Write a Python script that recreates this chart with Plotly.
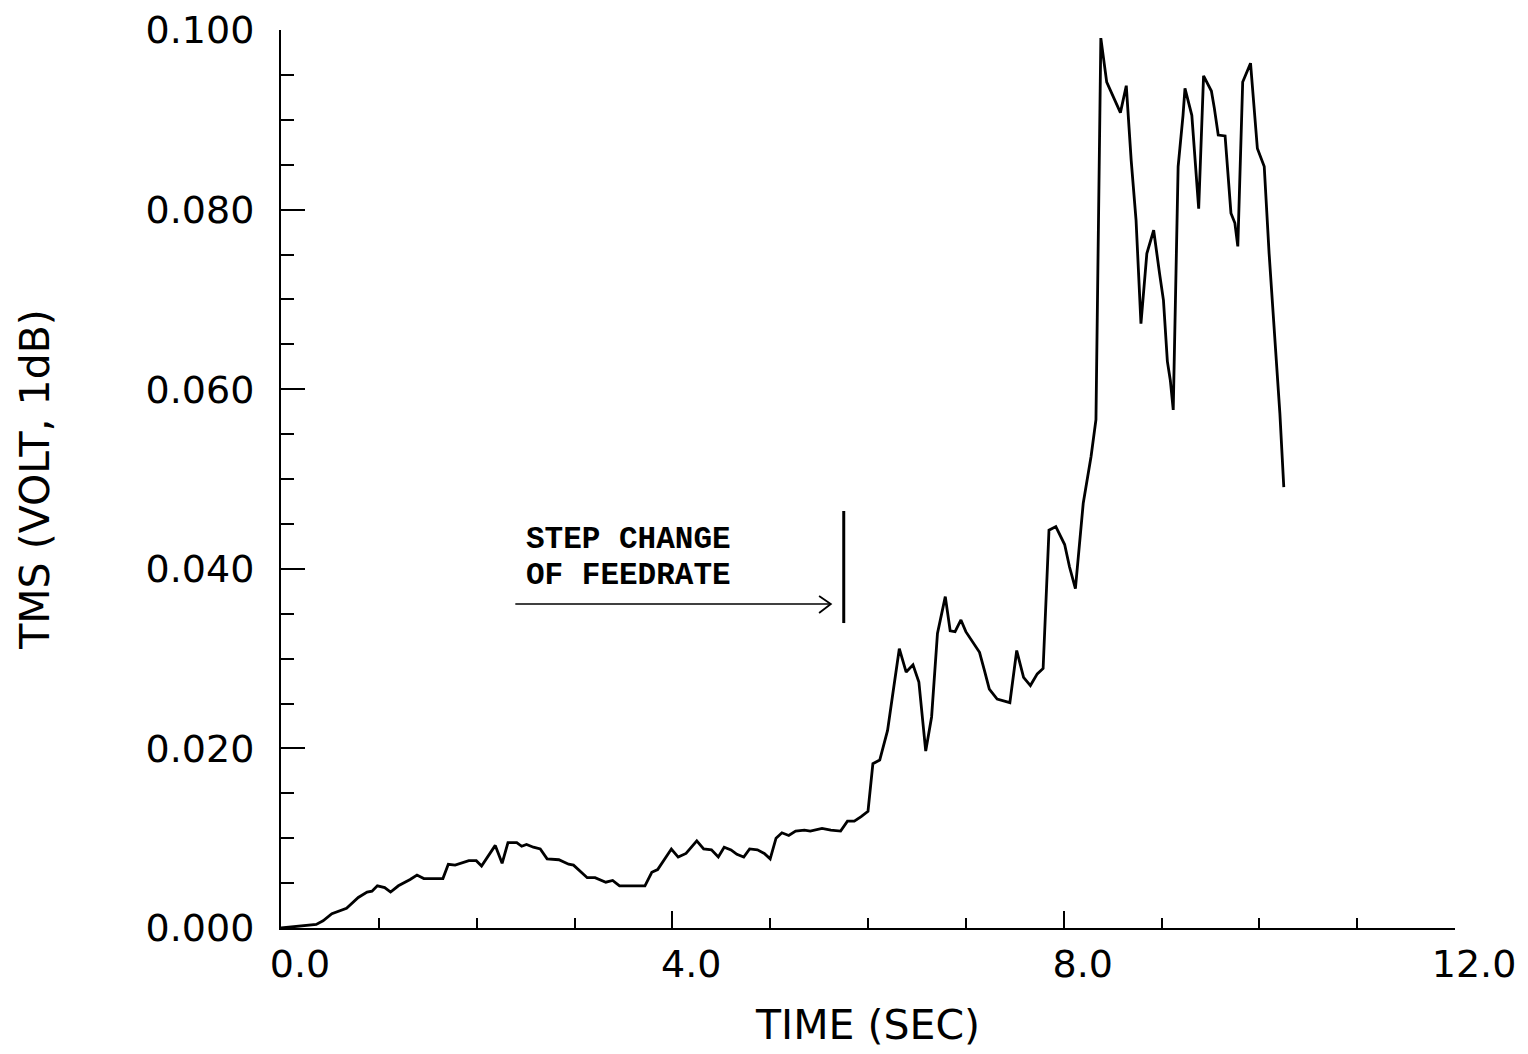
import plotly.graph_objects as go

# Data
time_sec = [0.00, 0.16, 0.36, 0.43, 0.52, 0.67, 0.79, 0.88, 0.93, 0.985,
            1.06, 1.12, 1.20, 1.32, 1.39, 1.46, 1.655, 1.71, 1.78, 1.92,
            1.996, 2.05, 2.19, 2.26, 2.32, 2.41, 2.46, 2.51, 2.58, 2.65,
            2.72, 2.84, 2.94, 2.99, 3.13, 3.21, 3.32, 3.39, 3.46, 3.72,
            3.79, 3.85, 3.99, 4.06, 4.14, 4.25, 4.32, 4.40, 4.47, 4.53,
            4.60, 4.66, 4.73, 4.79, 4.87, 4.94, 5.00, 5.06, 5.12, 5.19,
            5.26, 5.35, 5.41, 5.53, 5.62, 5.72, 5.79, 5.86, 5.93, 6.00,
            6.05, 6.12, 6.20, 6.25, 6.32, 6.39, 6.46, 6.52, 6.59, 6.65,
            6.71, 6.79, 6.84, 6.89, 6.95, 7.00, 7.14, 7.19, 7.24, 7.32,
            7.45, 7.52, 7.59, 7.66, 7.73, 7.79, 7.85, 7.92, 8.01, 8.06,
            8.12, 8.20, 8.28, 8.33, 8.38, 8.44, 8.52, 8.58, 8.64, 8.69,
            8.74, 8.79, 8.85, 8.92, 8.98, 9.02, 9.06, 9.09, 9.12, 9.17,
            9.22, 9.24, 9.31, 9.38, 9.43, 9.51, 9.54, 9.58, 9.65, 9.71,
            9.75, 9.78, 9.83, 9.91, 9.98, 10.05, 10.10, 10.16, 10.21, 10.25]

tms_volt = [0.0000, 0.00015, 0.0004, 0.0008, 0.0016, 0.0022, 0.0034, 0.0040, 0.0041, 0.0047,
            0.0045, 0.0040, 0.0047, 0.0054, 0.0059, 0.0055, 0.0055, 0.0071, 0.0070, 0.0075,
            0.0075, 0.0069, 0.0092, 0.0072, 0.0095, 0.0095, 0.0091, 0.0093, 0.0090, 0.0088,
            0.0077, 0.0076, 0.0071, 0.0070, 0.0056, 0.0056, 0.0051, 0.0053, 0.0047, 0.0047,
            0.0062, 0.0065, 0.0088, 0.0079, 0.0083, 0.0097, 0.0088, 0.0087, 0.0079, 0.0090,
            0.0087, 0.0082, 0.0079, 0.0088, 0.0087, 0.0083, 0.0077, 0.0100, 0.0106, 0.0103,
            0.0108, 0.0109, 0.0108, 0.0111, 0.0109, 0.0108, 0.0119, 0.0119, 0.0124, 0.0130,
            0.0183, 0.0187, 0.0220, 0.0258, 0.0311, 0.0285, 0.0293, 0.0274, 0.0197, 0.0235,
            0.0328, 0.0369, 0.0331, 0.0330, 0.0343, 0.0330, 0.0307, 0.0287, 0.0266, 0.0255,
            0.0251, 0.0309, 0.0279, 0.0270, 0.0283, 0.0289, 0.0443, 0.0447, 0.0427, 0.0402,
            0.0378, 0.0473, 0.0525, 0.0566, 0.0991, 0.0942, 0.0922, 0.0908, 0.0938, 0.0855,
            0.0788, 0.0673, 0.0751, 0.0777, 0.0729, 0.0699, 0.0631, 0.0610, 0.0577, 0.0848,
            0.0905, 0.0935, 0.0905, 0.0801, 0.0949, 0.0932, 0.0913, 0.0883, 0.0882, 0.0796,
            0.0785, 0.0759, 0.0942, 0.0963, 0.0868, 0.0848, 0.0751, 0.0658, 0.0573, 0.0491]

x_ticks = [0.0, 4.0, 8.0, 12.0]
x_tick_labels = ["0.0", "4.0", "8.0", "12.0"]
y_ticks = [0.000, 0.020, 0.040, 0.060, 0.080, 0.100]
y_tick_labels = ["0.000", "0.020", "0.040", "0.060", "0.080", "0.100"]

note_lines = ["STEP CHANGE", "OF FEEDRATE"]
step_time = 5.752          # feed-rate step marker
arrow_start = 2.395
arrow_level = 0.03608

fig = go.Figure()
fig.add_trace(go.Scatter(x=time_sec, y=tms_volt, mode="lines",
                         line=dict(color="black", width=2.8), showlegend=False,
                         hoverinfo="skip"))

tick_font = dict(family="DejaVu Sans", size=38, color="black")
title_font = dict(family="DejaVu Sans", size=41, color="black")

fig.update_xaxes(range=[0, 12], tickvals=x_ticks, ticktext=x_tick_labels,
                 showline=True, linecolor="black", linewidth=2,
                 ticks="inside", ticklen=17, tickwidth=2, tickcolor="black",
                 minor=dict(ticks="inside", ticklen=10, tickwidth=2, tickcolor="black", dtick=1.0, tick0=0),
                 showgrid=False, zeroline=False, tickfont=tick_font, automargin=False,
                 title=dict(text="TIME (SEC)", font=title_font, standoff=26),
                 ticklabelstandoff=1, ticklabelshift=19)
fig.update_yaxes(range=[0, 0.1], tickvals=y_ticks, ticktext=y_tick_labels,
                 showline=True, linecolor="black", linewidth=2,
                 ticks="inside", ticklen=24, tickwidth=2, tickcolor="black",
                 minor=dict(ticks="inside", ticklen=13, tickwidth=2, tickcolor="black", dtick=0.005, tick0=0),
                 showgrid=False, zeroline=False, tickfont=tick_font, automargin=False,
                 title=dict(text="TMS (VOLT, 1dB)", font=title_font, standoff=83),
                 ticklabelstandoff=17)

# Annotation text
note_font = dict(family="Liberation Mono", size=31, color="black", weight="bold")
fig.add_annotation(x=2.48, y=0.04321, xref="x", yref="y", text=note_lines[0],
                   showarrow=False, xanchor="left", yanchor="middle", font=note_font)
fig.add_annotation(x=2.48, y=0.03920, xref="x", yref="y", text=note_lines[1],
                   showarrow=False, xanchor="left", yanchor="middle", font=note_font)

# Arrow: shaft + open chevron head
head_x = 5.62
fig.add_shape(type="line", xref="x", yref="y", x0=arrow_start, x1=head_x,
              y0=arrow_level, y1=arrow_level, line=dict(color="black", width=1.6))
fig.add_shape(type="path", xref="x", yref="y",
              path=f"M {head_x-0.12},{arrow_level+0.00089} L {head_x},{arrow_level} L {head_x-0.12},{arrow_level-0.0010}",
              line=dict(color="black", width=1.8))
# Vertical step marker
fig.add_shape(type="line", xref="x", yref="y", x0=step_time, x1=step_time,
              y0=0.03396, y1=0.04644, line=dict(color="black", width=3))

fig.update_layout(width=1520, height=1046, plot_bgcolor="white", paper_bgcolor="white",
                  margin=dict(l=273, r=73, t=22, b=126, autoexpand=False), showlegend=False)

fig.write_html("out.html")
